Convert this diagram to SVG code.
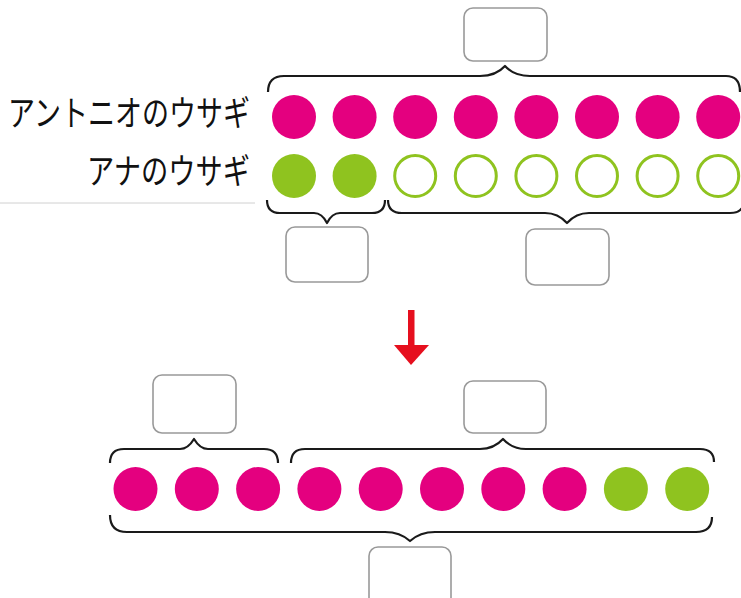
<svg xmlns="http://www.w3.org/2000/svg" width="741" height="598" viewBox="0 0 741 598">
<style>
.lbl{font-family:"Noto Sans CJK JP","Noto Sans",sans-serif;font-size:35px;fill:#111}
.mag{fill:#e4007f}
.grn{fill:#8fc31f}
.hol{fill:#fff;stroke:#8fc31f;stroke-width:3}
.box{fill:#fff;stroke:#999;stroke-width:1.6}
.brace{fill:none;stroke:#1a1a1a;stroke-width:2.2;stroke-linejoin:round}
</style>
<rect width="741" height="598" fill="#fff"/>
<line x1="0" y1="203" x2="255" y2="203" stroke="#d0d0d0" stroke-width="1"/>
<g id="labels">
<text class="lbl" x="8" y="126" textLength="242" lengthAdjust="spacingAndGlyphs">アントニオのウサギ</text>
<text class="lbl" x="87" y="184" textLength="163" lengthAdjust="spacingAndGlyphs">アナのウサギ</text>
</g>
<g id="row-antonio">
<circle class="mag" cx="294" cy="117" r="22"/>
<circle class="mag" cx="354.6" cy="117" r="22"/>
<circle class="mag" cx="415.2" cy="117" r="22"/>
<circle class="mag" cx="475.8" cy="117" r="22"/>
<circle class="mag" cx="536.4" cy="117" r="22"/>
<circle class="mag" cx="597" cy="117" r="22"/>
<circle class="mag" cx="657.6" cy="117" r="22"/>
<circle class="mag" cx="718.2" cy="117" r="22"/>
</g>
<g id="row-ana">
<circle class="grn" cx="294" cy="176" r="22"/>
<circle class="grn" cx="354.6" cy="176" r="22"/>
<circle class="hol" cx="415.2" cy="176" r="20.5"/>
<circle class="hol" cx="475.8" cy="176" r="20.5"/>
<circle class="hol" cx="536.4" cy="176" r="20.5"/>
<circle class="hol" cx="597" cy="176" r="20.5"/>
<circle class="hol" cx="657.6" cy="176" r="20.5"/>
<circle class="hol" cx="718.2" cy="176" r="20.5"/>
</g>
<g id="row-result">
<circle class="mag" cx="135.5" cy="489" r="22"/>
<circle class="mag" cx="196.8" cy="489" r="22"/>
<circle class="mag" cx="258.1" cy="489" r="22"/>
<circle class="mag" cx="319.4" cy="489" r="22"/>
<circle class="mag" cx="380.7" cy="489" r="22"/>
<circle class="mag" cx="442" cy="489" r="22"/>
<circle class="mag" cx="503.3" cy="489" r="22"/>
<circle class="mag" cx="564.6" cy="489" r="22"/>
<circle class="grn" cx="625.9" cy="489" r="22"/>
<circle class="grn" cx="687.2" cy="489" r="22"/>
</g>
<g id="boxes">
<rect id="box-total-top" class="box" x="464" y="8" width="83" height="53" rx="9"/>
<rect id="box-ana-2" class="box" x="286" y="227" width="82" height="55" rx="9"/>
<rect id="box-ana-6" class="box" x="526" y="229" width="83" height="56" rx="9"/>
<rect id="box-res-3" class="box" x="153" y="375" width="83" height="58" rx="9"/>
<rect id="box-res-7" class="box" x="464" y="381" width="82" height="52" rx="9"/>
<rect id="box-res-total" class="box" x="369" y="547" width="82" height="62" rx="9"/>
</g>
<g id="connectors">
<path class="brace" d="M268,92 Q268,76 284,76 L480,76 Q496,76 505,66 Q514,76 530,76 L726,76 Q740,76 740,92"/>
<path class="brace" d="M267,200 Q267,213 280,213 L314,213 Q322,213 327,223 Q332,213 340,213 L372,213 Q385,213 385,200"/>
<path class="brace" d="M388,200 Q388,213 402,213 L545,213 Q558,213 567,223 Q576,213 589,213 L730,213 Q744,213 744,200"/>
<path class="brace" d="M110,463 Q110,449 124,449 L180,449 Q188,449 194,439 Q200,449 208,449 L264,449 Q278,449 278,463"/>
<path class="brace" d="M291,463 Q291,449 305,449 L480,449 Q494,449 503,439 Q512,449 526,449 L700,449 Q714,449 714,462"/>
<path class="brace" d="M110,515 Q110,532 127,532 L385,532 Q400,532 410,541 Q420,532 435,532 L696,532 Q712,532 712,517"/>
<g id="arrow" fill="#e60f1e">
<rect x="408" y="310" width="6.5" height="37"/>
<polygon points="394,345 429,345 411,365"/>
</g>
</g>
</svg>
